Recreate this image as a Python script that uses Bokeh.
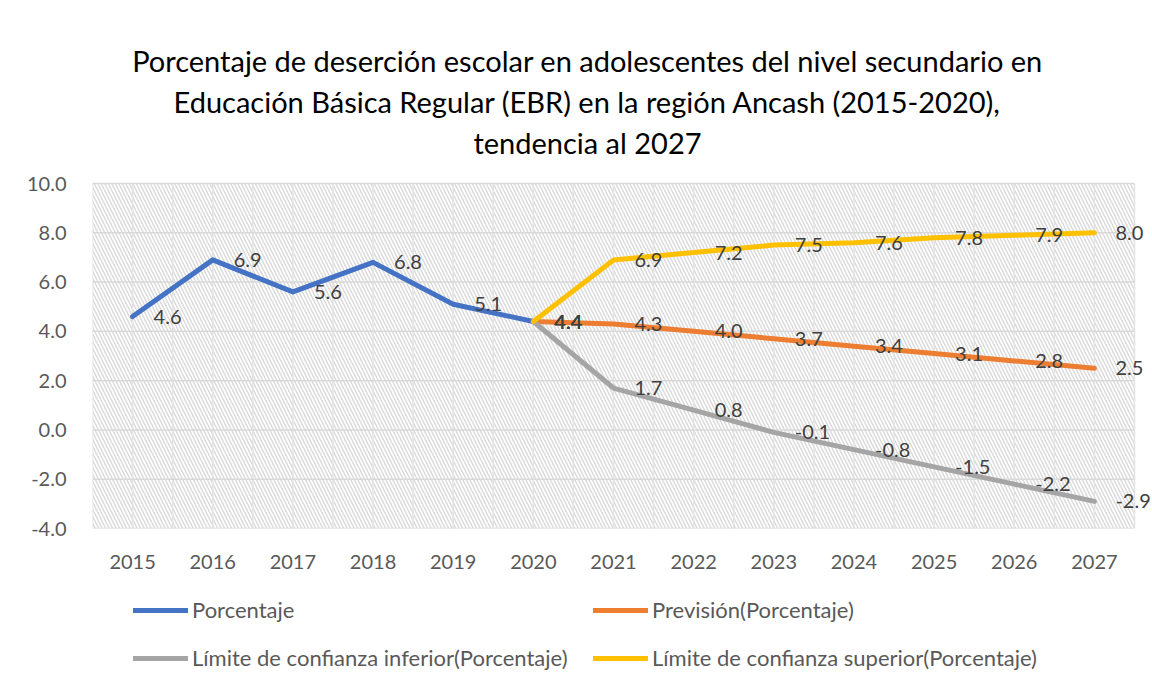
from bokeh.plotting import figure
from bokeh.models import (ColumnDataSource, Label, Legend, LegendItem,
                          FixedTicker, Range1d, PrintfTickFormatter)
from bokeh.layouts import column
from bokeh.core.properties import value
from bokeh.embed import file_html
from bokeh.resources import INLINE

# ---- data ----
years = ["2015", "2016", "2017", "2018", "2019", "2020", "2021",
         "2022", "2023", "2024", "2025", "2026", "2027"]
porcentaje_years = ["2015", "2016", "2017", "2018", "2019", "2020"]
porcentaje = [4.6, 6.9, 5.6, 6.8, 5.1, 4.4]
forecast_years = ["2020", "2021", "2022", "2023", "2024", "2025", "2026", "2027"]
prevision = [4.4, 4.3, 4.0, 3.7, 3.4, 3.1, 2.8, 2.5]
lim_inferior = [4.4, 1.7, 0.8, -0.1, -0.8, -1.5, -2.2, -2.9]
lim_superior = [4.4, 6.9, 7.2, 7.5, 7.6, 7.8, 7.9, 8.0]
y_ticks = [-4, -2, 0, 2, 4, 6, 8, 10]
title_lines = [
    "Porcentaje de deserción escolar en adolescentes del nivel secundario en",
    "Educación Básica Regular (EBR) en la región Ancash (2015-2020),",
    "tendencia al 2027",
]
series_names = ["Porcentaje", "Previsión(Porcentaje)",
                "Límite de confianza inferior(Porcentaje)",
                "Límite de confianza superior(Porcentaje)"]
colors = ["#4472C4", "#ED7D31", "#A5A5A5", "#FFC000"]

FONT = "Lato"

# ---- layout (pixels) ----
W, H = 1150, 684
LEFT = 92          # plot-area left edge
AREA_R = 1134      # plot-area right edge
AREA_T = 183       # plot-area top (y = 10)
AREA_B = 528       # plot-area bottom (y = -4)
MAIN_H = 578       # main figure height (includes x tick labels)

n = len(years)
ymin, ymax = y_ticks[0], y_ticks[-1]
px_x = (AREA_R - LEFT) / n
px_y = (AREA_B - AREA_T) / (ymax - ymin)
x_start = -0.5
x_end = x_start + (W - LEFT) / px_x
y_top = ymax + AREA_T / px_y

idx = {y: i for i, y in enumerate(years)}

p = figure(width=W, height=MAIN_H, output_backend="svg", toolbar_location=None,
           title=None, x_range=Range1d(x_start, x_end),
           y_range=Range1d(ymin, y_top),
           min_border_left=LEFT, min_border_right=0, min_border_top=0,
           min_border_bottom=MAIN_H - AREA_B)
p.outline_line_color = None
p.background_fill_color = "white"
p.border_fill_color = "white"
p.xgrid.visible = False
p.ygrid.visible = False

# hatched plot-area background
p.quad(left=[x_start], right=[n - 0.5], bottom=[ymin], top=[ymax],
       fill_color="white", line_color=None,
       hatch_pattern="\\", hatch_color="#d9d9d9", hatch_scale=7, hatch_weight=1.4)

# grid lines
vx = [x_start + 0.5 * i for i in range(2 * n + 1)]
p.segment(x0=vx, x1=vx, y0=[ymin] * len(vx), y1=[ymax] * len(vx),
          line_color="#e4e4e4", line_width=1.5)
p.segment(x0=[x_start] * len(y_ticks), x1=[n - 0.5] * len(y_ticks),
          y0=y_ticks, y1=y_ticks, line_color="#d9d9d9", line_width=1.5)

# axes
p.xaxis.ticker = FixedTicker(ticks=list(range(n)))
p.xaxis.major_label_overrides = {i: y for i, y in enumerate(years)}
p.yaxis.ticker = FixedTicker(ticks=y_ticks)
p.yaxis.formatter = PrintfTickFormatter(format="%.1f")
for ax in (p.xaxis, p.yaxis):
    ax.axis_line_color = None
    ax.major_tick_line_color = None
    ax.minor_tick_line_color = None
    ax.major_label_text_font = FONT
    ax.major_label_text_font_size = "20px"
    ax.major_label_text_color = "#595959"
p.xaxis.major_label_standoff = 20
p.yaxis.major_label_standoff = 20

series = [
    (porcentaje_years, porcentaje),
    (forecast_years, prevision),
    (forecast_years, lim_inferior),
    (forecast_years, lim_superior),
]

sources = []
for (yrs, vals), col in zip(series, colors):
    src = ColumnDataSource(dict(x=[idx[y] for y in yrs], y=vals,
                                lab=["%.1f" % v for v in vals]))
    sources.append(src)
    p.line("x", "y", source=src, line_color=col, line_width=5,
           line_join="round", line_cap="round")
    p.text(x="x", y="y", text="lab", source=src, x_offset=21, y_offset=0,
           text_align="left", text_baseline="middle",
           text_font=value(FONT), text_font_size="20px", text_color="#404040")

# title lines (screen units relative to frame bottom-left)
title_baselines_px = [60, 101, 142]
for line, ypx in zip(title_lines, title_baselines_px):
    p.add_layout(Label(x=587 - LEFT, y=AREA_B - ypx, x_units="screen", y_units="screen",
                       text=line, text_align="center", text_baseline="alphabetic",
                       text_font=FONT, text_font_size="29px", text_color="black"))

# ---- legend strip below (its frame is aligned with the main frame) ----
LEG_H = H - MAIN_H
q = figure(width=W, height=LEG_H, output_backend="svg", toolbar_location=None,
           title=None, x_axis_location=None, y_axis_location=None,
           min_border=0, x_range=Range1d(x_start, x_end), y_range=Range1d(100, 101))
q.outline_line_color = None
q.xgrid.visible = False
q.ygrid.visible = False
# same series as the chart; they fall outside this strip's y range, only the legend shows
leg_renderers = [q.line("x", "y", source=src, line_color=c, line_width=5, line_cap="round")
                 for src, c in zip(sources, colors)]
legend = Legend(items=[LegendItem(label=series_names[i], renderers=[leg_renderers[i]])
                       for i in (0, 1, 2, 3)],
                orientation="horizontal", ncols=2,
                location=(133 - LEFT, 13),
                glyph_width=55, glyph_height=20, label_height=20, label_width=380,
                spacing=21, padding=0, margin=0, label_standoff=4,
                border_line_color=None, background_fill_alpha=0,
                label_text_font=FONT, label_text_font_size="22px",
                label_text_color="#595959")
q.add_layout(legend)

layout = column(p, q, spacing=0)
open("out.html", "w").write(file_html(layout, INLINE))
